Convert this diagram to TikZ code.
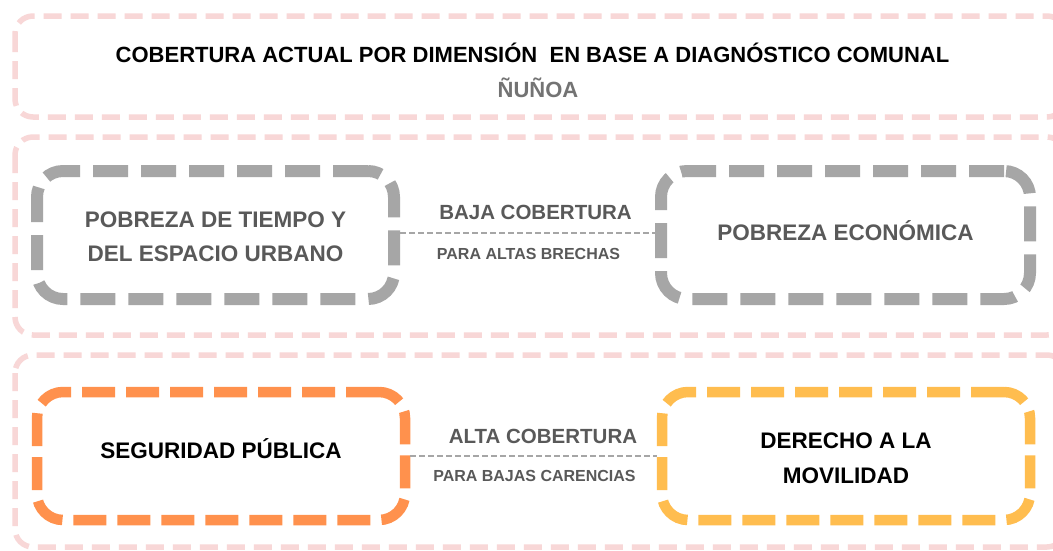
\documentclass[tikz,border=0pt]{standalone}
\usepackage{fontspec}
\setmainfont{Liberation Sans}
\definecolor{pinkline}{HTML}{F8D7D7}
\definecolor{grayline}{HTML}{A6A6A6}
\definecolor{orangeline}{HTML}{FF914D}
\definecolor{yellowline}{HTML}{FFBD4F}
\definecolor{graytext}{HTML}{595959}
\definecolor{subtitle}{HTML}{737373}
\tikzset{
  zone/.style={draw=pinkline, line width=5.5pt, rounded corners=18pt, dash pattern=on 18pt off 9pt},
  dimbox/.style={line width=10.5pt, rounded corners=26pt, dash pattern=on 33pt off 11pt,
     align=center, inner sep=0pt, text height=16pt, font=\bfseries\fontsize{22.5}{34.5}\selectfont},
  graybox/.style={dimbox, draw=grayline, text=graytext, line width=12pt, dash pattern=on 35pt off 13pt},
  orangebox/.style={dimbox, draw=orangeline, text=black},
  yellowbox/.style={dimbox, draw=yellowline, text=black},
  link/.style={draw=grayline, line width=1.6pt, dash pattern=on 6pt off 3pt},
  biglabel/.style={font=\bfseries\fontsize{20.5}{24}\selectfont, text=graytext, inner sep=0pt,
     text height=14.7pt, text depth=0pt},
  smalllabel/.style={font=\bfseries\fontsize{16}{19}\selectfont, text=graytext, inner sep=0pt,
     text height=11.5pt, text depth=0pt},
  titletext/.style={font=\bfseries\fontsize{22}{26}\selectfont, inner sep=0pt,
     text height=15.8pt, text depth=0pt}
}
\begin{document}
\begin{tikzpicture}[x=1pt,y=-1pt]
\clip (0,0) rectangle (1053,550);
\fill[white] (0,0) rectangle (1053,550);
% zones
\draw[zone] (15,16) rectangle (1065,117);
\draw[zone] (15,137) rectangle (1065,335);
\draw[zone] (15,355) rectangle (1065,547);
% title
\node[titletext] (title) at (532.5,54.5)
  {COBERTURA ACTUAL POR DIMENSIÓN \ EN BASE A DIAGNÓSTICO COMUNAL};
\node[titletext, text=subtitle] (comuna) at (538,90) {ÑUÑOA};
% boxes
\node[graybox, text height=53.5pt, text depth=0pt, minimum width=357pt, minimum height=128pt] (tiempo) at (215.5,235)
  {POBREZA DE TIEMPO Y\\DEL ESPACIO URBANO};
\node[graybox, text depth=6pt, minimum width=369pt, minimum height=128pt] (economica) at (845.5,235)
  {POBREZA ECONÓMICA};
\node[orangebox, text depth=12pt, minimum width=368pt, minimum height=128pt] (seguridad) at (221,456)
  {SEGURIDAD PÚBLICA};
\node[yellowbox, text height=54pt, text depth=0pt, minimum width=368pt, minimum height=128pt] (movilidad) at (846,456)
  {DERECHO A LA\\MOVILIDAD};
% connectors
\draw[link] (tiempo.east |- 0,233) coordinate (a1) -- (economica.west |- 0,233) coordinate (a2);
\draw[link] (seguridad.east) -- (movilidad.west);
\node[biglabel] (baja) at (535.5,212.5) {BAJA COBERTURA};
\node[smalllabel] (brechas) at (528.5,254) {PARA ALTAS BRECHAS};
\node[biglabel] (alta) at (543,436) {ALTA COBERTURA};
\node[smalllabel] (carencias) at (534.5,476) {PARA BAJAS CARENCIAS};
\end{tikzpicture}
\end{document}
